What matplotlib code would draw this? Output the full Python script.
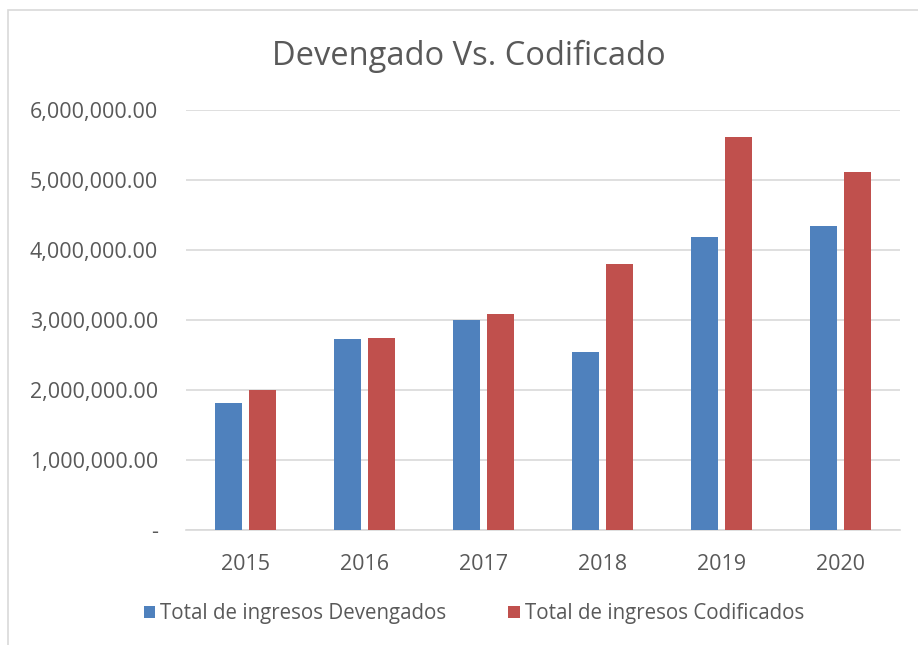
import matplotlib.pyplot as plt
import numpy as np
from matplotlib.patches import Rectangle
from matplotlib.ticker import FuncFormatter

# Datos
anios = ['2015', '2016', '2017', '2018', '2019', '2020']
devengados = [1810000, 2725000, 3000000, 2540000, 4180000, 4340000]
codificados = [2005000, 2750000, 3080000, 3795000, 5620000, 5110000]
y_ticks = [0, 1000000, 2000000, 3000000, 4000000, 5000000, 6000000]

azul = '#4F81BD'
rojo = '#C0504D'
gris_txt = '#595959'

plt.rcParams['font.family'] = ['Open Sans', 'DejaVu Sans']

fig = plt.figure(figsize=(9.18, 6.45), dpi=100)
ax = fig.add_axes([186/918, 1-530/645, (900-186)/918, (530-110)/645])

x = np.arange(len(anios))
w = 27/119
off = 17/119
ax.bar(x - off, devengados, w, color=azul, label='Total de ingresos Devengados', zorder=3)
ax.bar(x + off, codificados, w, color=rojo, label='Total de ingresos Codificados', zorder=3)

ax.set_xlim(-0.5, len(anios) - 0.5)
ax.set_ylim(0, 6000000)
ax.set_yticks(y_ticks)
ax.yaxis.set_major_formatter(FuncFormatter(lambda v, p: '-' if v == 0 else f'{v:,.2f}'))
ax.set_xticks(x)
ax.set_xticklabels(anios)
ax.tick_params(axis='y', length=0, pad=20, labelsize=15.5, labelcolor=gris_txt)
ax.tick_params(axis='x', length=0, pad=17, labelsize=15.5, labelcolor=gris_txt)
ax.grid(axis='y', color='#D9D9D9', linewidth=1.2, zorder=0)
for s in ['top', 'right', 'left']:
    ax.spines[s].set_visible(False)
ax.spines['bottom'].set_color('#D9D9D9')
ax.spines['bottom'].set_linewidth(1.2)

fig.text(469/918, 1-56/645, 'Devengado Vs. Codificado', ha='center', va='center',
         fontsize=23.5, color=gris_txt)

leg = fig.legend(loc='center', bbox_to_anchor=(474/918, 1-614/645), ncol=2, frameon=False,
                 fontsize=14.8, handlelength=0.55, handleheight=0.55, handletextpad=0.25,
                 columnspacing=3.0, labelcolor=gris_txt)

# marco exterior
fig.patches.append(Rectangle((8/918, -0.1), 1.0, 1-10/645 + 0.1, transform=fig.transFigure,
                             fill=False, edgecolor='#D9D9D9', linewidth=1.2))

fig.savefig('out.png', dpi=100)
